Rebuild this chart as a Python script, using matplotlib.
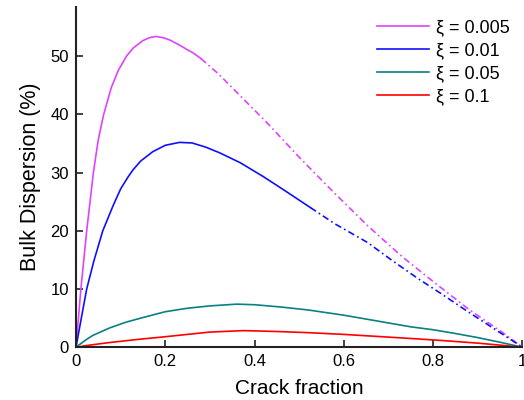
import matplotlib.pyplot as plt

plt.rcParams['font.family'] = ['Liberation Sans', 'DejaVu Sans']

# values
x_m_solid = [0, 0.011, 0.024, 0.039, 0.050, 0.062, 0.079, 0.095, 0.113, 0.128, 0.15, 0.165,
             0.178, 0.195, 0.21, 0.23, 0.25, 0.262, 0.28]
y_m_solid = [0, 10.0, 20.0, 30.0, 35.7, 40.0, 44.6, 47.6, 50.0, 51.4, 52.7, 53.2,
             53.4, 53.2, 52.8, 52.0, 51.1, 50.6, 49.6]
x_m_dash = [0.28, 0.32, 0.368, 0.43, 0.503, 0.58, 0.653, 0.73, 0.803, 0.88, 0.954, 1.0]
y_m_dash = [49.6, 46.9, 43.2, 38.4, 32.4, 26.4, 20.9, 15.6, 11.1, 6.5, 2.6, 0]

x_b_solid = [0, 0.011, 0.024, 0.04, 0.06, 0.083, 0.10, 0.117, 0.128, 0.145, 0.172,
             0.20, 0.232, 0.26, 0.29, 0.322, 0.368, 0.42, 0.47, 0.525]
y_b_solid = [0, 4.6, 10.0, 14.8, 20.0, 24.3, 27.2, 29.3, 30.5, 32.0, 33.6,
             34.7, 35.2, 35.1, 34.4, 33.4, 31.7, 29.3, 26.8, 24.0]
x_b_dash = [0.525, 0.58, 0.653, 0.71, 0.766, 0.818, 0.878, 0.94, 1.0]
y_b_dash = [24.0, 21.2, 18.0, 14.8, 11.8, 9.2, 6.1, 3.0, 0]

x_teal = [0, 0.022, 0.037, 0.075, 0.112, 0.15, 0.2, 0.25, 0.3, 0.36, 0.4, 0.46, 0.52,
          0.6, 0.675, 0.75, 0.8, 0.85, 0.9, 0.95, 1.0]
y_teal = [0, 1.25, 2.0, 3.3, 4.3, 5.1, 6.1, 6.7, 7.1, 7.4, 7.3, 6.9, 6.4,
          5.5, 4.5, 3.5, 3.0, 2.35, 1.65, 0.85, 0]

x_red = [0, 0.03, 0.075, 0.14, 0.2, 0.25, 0.3, 0.375, 0.45, 0.52, 0.6, 0.675, 0.75,
         0.82, 0.9, 0.95, 1.0]
y_red = [0, 0.35, 0.8, 1.35, 1.8, 2.2, 2.6, 2.85, 2.7, 2.5, 2.2, 1.85, 1.5,
         1.15, 0.7, 0.35, 0]

labels = ['ξ = 0.005', 'ξ = 0.01', 'ξ = 0.05', 'ξ = 0.1']
colors = ['#dd44ff', '#1010ff', '#0a8080', '#ff0000']
dashdot = (0, (4, 2, 1, 2))
lw = 1.2

fig = plt.figure(figsize=(5.24, 4.0), dpi=100)
ax = fig.add_axes([0.145, 0.132, 0.852, 0.851])

ax.plot(x_m_solid, y_m_solid, color=colors[0], lw=lw, label=labels[0])
ax.plot(x_m_dash, y_m_dash, color=colors[0], lw=lw, ls=dashdot)
ax.plot(x_b_solid, y_b_solid, color=colors[1], lw=lw, label=labels[1])
ax.plot(x_b_dash, y_b_dash, color=colors[1], lw=lw, ls=dashdot)
ax.plot(x_teal, y_teal, color=colors[2], lw=lw, label=labels[2])
ax.plot(x_red, y_red, color=colors[3], lw=lw, label=labels[3])

ax.set_xlim(0, 1)
ax.set_ylim(0, 58.5)
ax.set_xticks([0, 0.2, 0.4, 0.6, 0.8, 1])
ax.set_xticklabels(['0', '0.2', '0.4', '0.6', '0.8', '1'])
ax.set_yticks([0, 10, 20, 30, 40, 50])
ax.tick_params(direction='in', labelsize=12, length=5, width=1.2, color='#222222', pad=5)
ax.spines['top'].set_visible(False)
ax.spines['right'].set_visible(False)
for s in ['left', 'bottom']:
    ax.spines[s].set_linewidth(1.5)
    ax.spines[s].set_color('#222222')

ax.set_xlabel('Crack fraction', fontsize=15, labelpad=7)
ax.set_ylabel('Bulk Dispersion (%)', fontsize=15.5, labelpad=7)

ax.legend(loc='upper right', bbox_to_anchor=(1.009, 1.011), frameon=False, fontsize=13,
          handlelength=2.9, handletextpad=0.4, labelspacing=0.33)

fig.savefig('out.png', dpi=100)
